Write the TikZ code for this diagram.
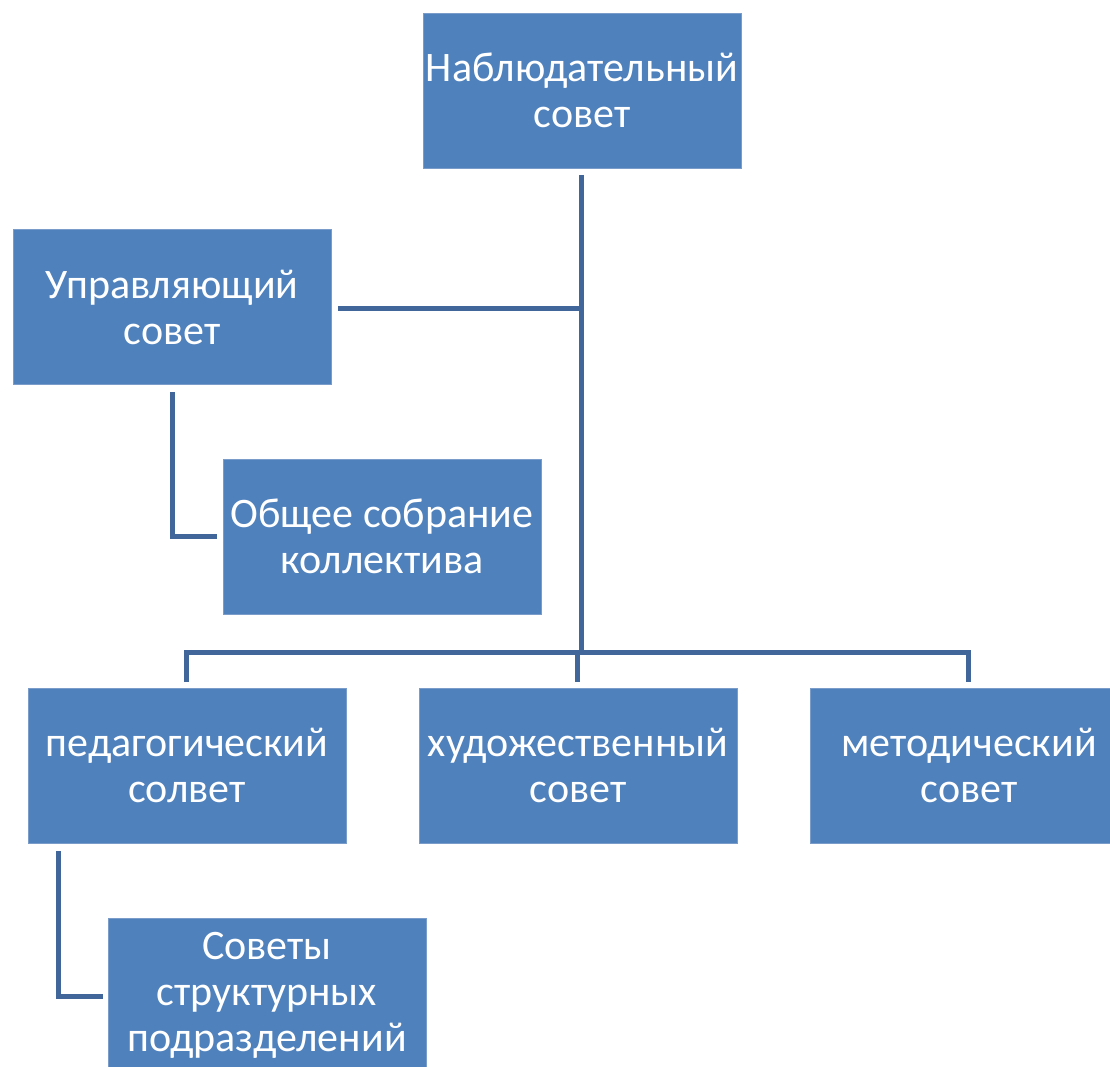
\documentclass[tikz,border=0pt]{standalone}
\usepackage{fontspec}
\setmainfont{Carlito}
\usetikzlibrary{calc}
\definecolor{boxfill}{HTML}{4F81BD}
\definecolor{boxedge}{HTML}{7A9CCB}
\definecolor{linkcol}{HTML}{41679A}
\tikzset{
  orgbox/.style={rectangle, fill=boxfill, draw=boxedge, line width=0.8pt,
    minimum width=318pt, minimum height=155pt, inner sep=0pt,
    text=white, align=center, font=\fontsize{42}{46}\selectfont},
  link/.style={draw=linkcol, line width=5pt}
}
\begin{document}
\begin{tikzpicture}[x=1pt,y=-1pt]
\useasboundingbox (0,0) rectangle (1110,1067);
\begin{scope}
\clip (0,0) rectangle (1110,1067);
\node[orgbox] (nab) at (582,90.5) {Наблюдательный\\совет};
\node[orgbox] (upr) at (172,307) {Управляющий\\совет};
\node[orgbox] (obs) at (382,536.5) {Общее собрание\\коллектива};
\node[orgbox] (ped) at (187,765.5) {педагогический\\солвет};
\node[orgbox] (hud) at (578,765.5) {художественный\\совет};
\node[orgbox] (met) at (969,765.5) {методический\\совет};
\node[orgbox, minimum height=154pt] (sov) at (267,995) {Советы\\структурных\\подразделений};
\end{scope}
\coordinate (trunkTop) at (581,175);
\coordinate (trunkBot) at (581,652);
\coordinate (uprJ) at (581,308);
\coordinate (uprE) at ($(upr.east)+(7,1)$);
\coordinate (barL) at (186,652);
\coordinate (barR) at (968,652);
\coordinate (pedT) at (186,682);
\coordinate (hudT) at (577,682);
\coordinate (hudJ) at (577,652);
\coordinate (metT) at (968,682);
\coordinate (uprB) at (172,392);
\coordinate (obsW) at ($(obs.west)+(-6,0)$);
\coordinate (pedB) at (58,851);
\coordinate (sovW) at (103,996);
\draw[link] (trunkTop) -- (trunkBot);
\draw[link] (uprE) -- (uprJ);
\draw[link] (pedT) -- (barL) -- (barR) -- (metT);
\draw[link] (hudT) -- (hudJ);
\draw[link] (uprB) |- (obsW);
\draw[link] (pedB) |- (sovW);
\end{tikzpicture}
\end{document}
